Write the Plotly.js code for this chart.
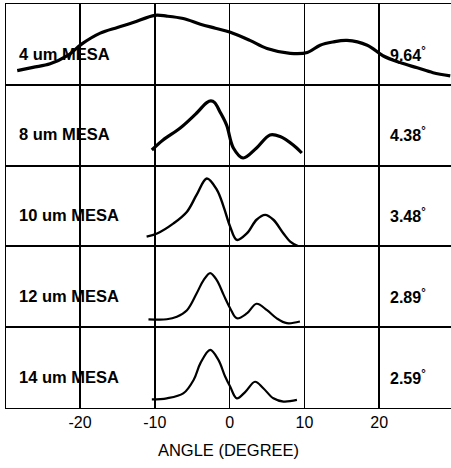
<!DOCTYPE html>
<html><head><meta charset="utf-8">
<script src="https://cdn.plot.ly/plotly-3.0.1.min.js"></script>
<style>html,body{margin:0;padding:0;background:#fff}</style>
</head><body><div id="chart" style="width:451px;height:468px"></div>
<script>
// Normalized intensity profiles (x in degrees)
const x4  = [-28.4,-26.3,-24.0,-21.7,-19.7,-17.3,-15.0,-12.9,-10.0,-8.4,-6.2,-3.9,-1.9,0.1,2.7,5.0,8.1,10.4,12.1,13.8,15.7,18.4,20.5,22.8,25.1,27.2,29.5];
const y4  = [0.175,0.216,0.26,0.36,0.51,0.64,0.71,0.77,0.86,0.85,0.82,0.75,0.70,0.65,0.55,0.45,0.39,0.40,0.49,0.53,0.55,0.49,0.36,0.275,0.21,0.15,0.11];
const x8  = [-10.4,-8.9,-6.6,-4.4,-3.05,-2.5,-2.0,-1.3,-0.4,0.5,1.8,3.6,5.4,6.75,8.5,9.65];
const y8  = [0.193,0.317,0.465,0.651,0.78,0.80,0.78,0.667,0.50,0.218,0.094,0.218,0.379,0.36,0.255,0.156];
const x10 = [-11.1,-9.7,-7.5,-5.7,-4.4,-3.05,-1.7,-0.8,0.07,0.96,2.3,3.6,4.75,5.85,7.2,8.1,9.2];
const y10 = [0.12,0.16,0.285,0.43,0.64,0.84,0.70,0.49,0.245,0.08,0.16,0.33,0.39,0.33,0.16,0.06,0.0];
const x12 = [-10.85,-8.4,-7.05,-5.7,-4.4,-3.5,-2.6,-1.7,-0.8,0.07,0.96,2.3,3.6,5.0,6.3,7.65,9.4];
const y12 = [0.098,0.098,0.13,0.21,0.42,0.58,0.67,0.58,0.40,0.235,0.11,0.17,0.29,0.21,0.11,0.05,0.07];
const x14 = [-10.4,-8.4,-6.2,-4.8,-3.9,-2.6,-1.5,-0.6,0.07,0.96,2.1,3.4,4.5,5.85,7.2,9.0];
const y14 = [0.107,0.12,0.18,0.35,0.555,0.72,0.595,0.39,0.265,0.12,0.20,0.325,0.245,0.12,0.08,0.10];
const labels = ["4 um MESA","8 um MESA","10 um MESA","12 um MESA","14 um MESA"];
const widths = ["9.64","4.38","3.48","2.89","2.59"];
const tickVals = [-20,-10,0,10,20];

const xs=[x4,x8,x10,x12,x14], ys=[y4,y8,y10,y12,y14];
const lw=[3.2,3.2,2.4,2.2,2.2];
const n=5;
const traces=[]; const layout={
  width:451,height:468,margin:{l:6,r:0,t:4,b:60},
  paper_bgcolor:'#fff',plot_bgcolor:'#fff',showlegend:false,
  font:{family:'Liberation Sans, Arial, sans-serif',color:'#000'},
  xaxis:{range:[-29.9,29.6],tickvals:tickVals,ticktext:tickVals.map(String),
    showgrid:true,gridcolor:'#000',gridwidth:1.5,zeroline:false,
    showline:true,mirror:'all',linecolor:'#000',linewidth:1,ticks:'',
    tickfont:{family:'Liberation Sans, Arial, sans-serif',size:16,color:'#000'},
    anchor:'y',
    title:{text:'ANGLE (DEGREE)',font:{size:16.5,color:'#000'},standoff:14}},
  annotations:[]
};
for(let i=0;i<n;i++){
  const yn = i===n-1 ? 'y' : 'y'+(n-i);
  const key = i===n-1 ? 'yaxis' : 'yaxis'+(n-i);
  const k=n-1-i; // from bottom
  layout[key]={domain:[k/n,(k+1)/n],range:[0,1],showgrid:false,zeroline:false,
    showticklabels:false,ticks:'',showline:true,mirror:true,linecolor:'#000',linewidth:1.5,fixedrange:true};
  traces.push({x:xs[i],y:ys[i],yaxis:yn,xaxis:'x',type:'scatter',mode:'lines',
    line:{color:'#000',width:lw[i],shape:'spline',smoothing:1},hoverinfo:'skip'});
  const dref = yn+' domain';
  layout.annotations.push({xref:'paper',yref:dref,x:0.024,y:0.385,xanchor:'left',yanchor:'middle',
    text:'<b>'+labels[i]+'</b>',showarrow:false,font:{size:16.5,color:'#000'}});
  layout.annotations.push({xref:'paper',yref:dref,x:0.858,y:0.385,xanchor:'left',yanchor:'middle',
    text:'<b>'+widths[i]+'<sup>°</sup></b>',showarrow:false,font:{size:16,color:'#000'}});
}
Plotly.newPlot('chart',traces,layout,{staticPlot:true,displayModeBar:false});
</script></body></html>
